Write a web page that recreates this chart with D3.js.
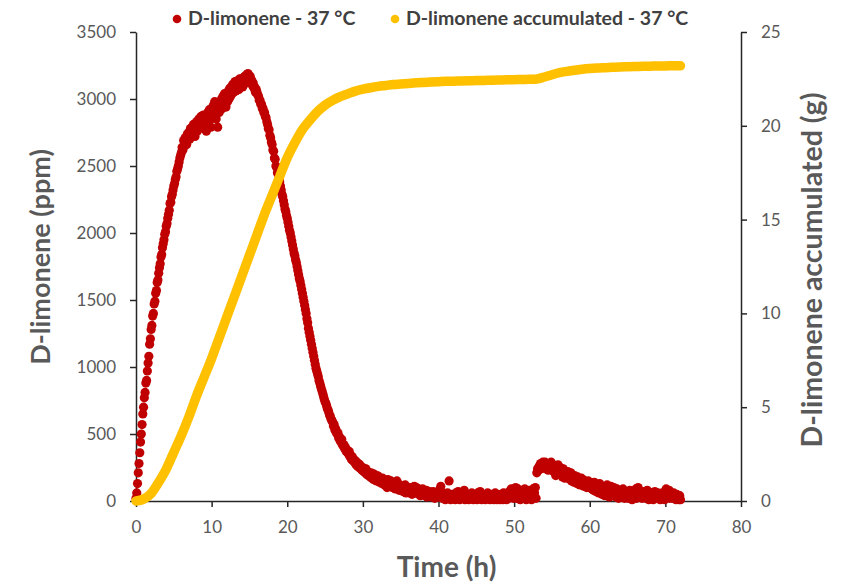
<!DOCTYPE html>
<html>
<head>
<meta charset="utf-8">
<script src="https://cdn.jsdelivr.net/npm/d3@7/dist/d3.min.js"></script>
<style>
  html, body { margin: 0; padding: 0; background: #ffffff; }
  svg { display: block; }
  text { font-family: Lato, "Open Sans", sans-serif; }
</style>
</head>
<body>
<svg id="chart" width="851" height="582"></svg>
<script>
// D-limonene concentration (ppm), one reading every 6 minutes (0.1 h) from 0 to 72 h
const limoneneStep = 0.1;
const limonenePpm = [
  20, 60, 130, 210, 280, 360, 440, 500, 570, 650,
  700, 770, 810, 880, 900, 970, 1030, 1080, 1170, 1210,
  1280, 1310, 1380, 1400, 1470, 1490, 1550, 1570, 1630, 1650,
  1700, 1740, 1770, 1820, 1840, 1890, 1920, 1950, 1990, 2010,
  2050, 2070, 2110, 2140, 2170, 2220, 2230, 2270, 2290, 2320,
  2350, 2370, 2400, 2420, 2460, 2480, 2500, 2530, 2560, 2580,
  2600, 2640, 2620, 2690, 2650, 2710, 2680, 2660, 2740, 2700,
  2750, 2700, 2780, 2730, 2790, 2740, 2810, 2760, 2720, 2800,
  2830, 2760, 2800, 2850, 2780, 2840, 2870, 2790, 2820, 2880,
  2810, 2870, 2840, 2760, 2880, 2900, 2830, 2920, 2860, 2790,
  2870, 2910, 2950, 2860, 2980, 2900, 2850, 2940, 2790, 2960,
  2900, 2970, 2920, 3000, 2930, 3020, 2950, 3040, 2980, 2940,
  3030, 2980, 3060, 3000, 3080, 3020, 3090, 3040, 3110, 3050,
  3090, 3130, 3060, 3120, 3080, 3140, 3070, 3150, 3100, 3130,
  3140, 3090, 3160, 3110, 3170, 3130, 3180, 3150, 3190, 3170,
  3150, 3170, 3130, 3140, 3100, 3120, 3080, 3090, 3050, 3070,
  3050, 3030, 3020, 2990, 2990, 2960, 2960, 2930, 2930, 2900,
  2900, 2870, 2860, 2830, 2810, 2780, 2770, 2730, 2710, 2680,
  2660, 2620, 2610, 2560, 2550, 2500, 2490, 2450, 2440, 2400,
  2380, 2350, 2320, 2290, 2270, 2240, 2210, 2180, 2160, 2130,
  2110, 2080, 2050, 2020, 2000, 1970, 1940, 1910, 1880, 1850,
  1830, 1800, 1780, 1750, 1720, 1690, 1660, 1640, 1610, 1580,
  1550, 1520, 1490, 1460, 1430, 1400, 1360, 1330, 1290, 1260,
  1230, 1200, 1170, 1140, 1110, 1080, 1050, 1020, 990, 970,
  950, 930, 900, 880, 860, 840, 820, 800, 780, 760,
  740, 730, 710, 690, 680, 660, 640, 630, 610, 600,
  590, 560, 570, 530, 540, 510, 500, 510, 470, 480,
  450, 440, 460, 420, 410, 420, 390, 400, 370, 380,
  360, 350, 370, 330, 340, 310, 330, 300, 310, 290,
  300, 270, 290, 260, 280, 250, 270, 240, 250, 230,
  250, 220, 230, 210, 240, 200, 220, 190, 210, 200,
  180, 210, 170, 190, 160, 200, 170, 180, 150, 190,
  160, 180, 140, 170, 150, 130, 170, 140, 160, 120,
  150, 130, 100, 160, 120, 140, 110, 150, 130, 100,
  140, 110, 130, 90, 120, 150, 100, 110, 80, 120,
  100, 90, 110, 70, 100, 80, 120, 60, 90, 100,
  70, 90, 60, 100, 80, 50, 90, 70, 110, 60,
  80, 100, 60, 90, 50, 70, 40, 80, 60, 90,
  50, 70, 40, 60, 80, 30, 60, 50, 70, 40,
  60, 30, 50, 70, 40, 20, 60, 40, 50, 30,
  50, 80, 30, 110, 40, 20, 60, 30, 50, 10,
  40, 20, 60, 30, 150, 40, 10, 50, 30, 20,
  50, 30, 10, 60, 20, 40, 70, 20, 10, 50,
  30, 60, 20, 40, 80, 10, 30, 50, 20, 40,
  10, 30, 50, 20, 60, 30, 10, 40, 20, 50,
  30, 10, 60, 20, 40, 70, 30, 10, 50, 20,
  40, 20, 10, 50, 30, 60, 20, 40, 10, 30,
  50, 20, 40, 10, 30, 60, 20, 10, 40, 20,
  30, 10, 50, 20, 40, 10, 60, 30, 20, 40,
  10, 30, 50, 20, 70, 40, 90, 30, 60, 20,
  80, 40, 100, 20, 60, 90, 30, 50, 10, 70,
  30, 80, 20, 50, 90, 40, 10, 60, 30, 80,
  20, 50, 70, 10, 40, 90, 30, 60, 100, 20,
  210, 240, 230, 260, 250, 280, 240, 270, 290, 250,
  270, 290, 240, 280, 260, 230, 280, 250, 270, 290,
  240, 270, 220, 260, 230, 190, 250, 220, 270, 240,
  210, 250, 200, 230, 180, 240, 210, 170, 220, 200,
  180, 220, 170, 200, 160, 210, 150, 190, 170, 140,
  190, 150, 170, 130, 180, 140, 160, 120, 150, 170,
  130, 160, 110, 150, 120, 140, 100, 130, 150, 110,
  140, 100, 130, 90, 120, 80, 140, 100, 70, 120,
  90, 110, 60, 130, 80, 100, 50, 110, 70, 90,
  40, 100, 70, 120, 60, 90, 30, 80, 110, 60,
  80, 50, 100, 40, 70, 30, 90, 60, 20, 80,
  50, 70, 30, 60, 90, 40, 20, 70, 50, 30,
  60, 20, 50, 80, 30, 60, 10, 40, 70, 30,
  50, 90, 20, 60, 100, 40, 70, 30, 50, 20,
  40, 70, 30, 60, 20, 50, 80, 30, 10, 50,
  30, 60, 20, 50, 10, 40, 70, 20, 50, 30,
  60, 20, 40, 10, 50, 30, 60, 20, 40, 10,
  50, 90, 30, 70, 40, 80, 20, 60, 30, 50,
  20, 60, 30, 40, 10, 50, 20, 30, 10, 40,
  10
];

// Accumulated D-limonene (g), hourly from 0 to 72 h
const accumulatedStep = 1;
const accumulatedG = [
  0, 0.1, 0.4, 1.0, 1.7, 2.6, 3.5, 4.5, 5.6, 6.6,
  7.6, 8.7, 9.8, 10.9, 12.0, 13.1, 14.2, 15.3, 16.3, 17.3,
  18.3, 19.1, 19.8, 20.3, 20.75, 21.1, 21.35, 21.55, 21.7, 21.85,
  21.95, 22.03, 22.1, 22.15, 22.2, 22.23, 22.26, 22.29, 22.31, 22.33,
  22.35, 22.37, 22.38, 22.39, 22.4, 22.41, 22.42, 22.43, 22.44, 22.45,
  22.46, 22.47, 22.48, 22.5, 22.6, 22.72, 22.83, 22.9, 22.96, 23.01,
  23.05, 23.08, 23.1, 23.12, 23.14, 23.15, 23.16, 23.17, 23.18, 23.19,
  23.19, 23.2, 23.2
];

const xTicks = [0, 10, 20, 30, 40, 50, 60, 70, 80];
const yLeftTicks = [0, 500, 1000, 1500, 2000, 2500, 3000, 3500];
const yRightTicks = [0, 5, 10, 15, 20, 25];

const seriesNames = ["D-limonene - 37 °C", "D-limonene accumulated - 37 °C"];
const seriesColors = ["#C00000", "#FFC000"];

const svg = d3.select("#chart");
const plot = { left: 136, right: 741, top: 32, bottom: 501 };

const x = d3.scaleLinear().domain([0, 80]).range([plot.left, plot.right]);
const yLeft = d3.scaleLinear().domain([0, 3500]).range([plot.bottom, plot.top]);
const yRight = d3.scaleLinear().domain([0, 25]).range([plot.bottom, plot.top]);

const limonene = limonenePpm.map((v, i) => ({ t: +(i * limoneneStep).toFixed(1), v }));
const accumulated = accumulatedG.map((v, i) => ({ t: i * accumulatedStep, v }));

const axisColor = "#262626";
const labelColor = "#595959";
const plain = d3.format("d");

// Axes
const xAxis = svg.append("g")
  .attr("transform", `translate(0,${plot.bottom})`)
  .call(d3.axisBottom(x).tickValues(xTicks).tickFormat(plain).tickSize(6).tickSizeOuter(0).tickPadding(14));
const leftAxis = svg.append("g")
  .attr("transform", `translate(${plot.left},0)`)
  .call(d3.axisLeft(yLeft).tickValues(yLeftTicks).tickFormat(plain).tickSize(6).tickSizeOuter(0).tickPadding(14));
const rightAxis = svg.append("g")
  .attr("transform", `translate(${plot.right},0)`)
  .call(d3.axisRight(yRight).tickValues(yRightTicks).tickFormat(plain).tickSize(6).tickSizeOuter(0).tickPadding(14));

[xAxis, leftAxis, rightAxis].forEach(g => {
  g.select(".domain").attr("stroke", axisColor).attr("stroke-width", 1.5);
  g.selectAll(".tick line").attr("stroke", axisColor).attr("stroke-width", 1.5);
  g.selectAll(".tick text")
    .attr("fill", labelColor)
    .style("font-family", "Lato, sans-serif")
    .style("font-size", "17px");
});

// Concentration points
svg.append("g")
  .selectAll("circle")
  .data(limonene)
  .join("circle")
  .attr("cx", d => x(d.t))
  .attr("cy", d => yLeft(d.v))
  .attr("r", 4.6)
  .attr("fill", seriesColors[0]);

// Accumulated amount, drawn as a dense band
svg.append("path")
  .datum(accumulated)
  .attr("fill", "none")
  .attr("stroke", seriesColors[1])
  .attr("stroke-width", 9.5)
  .attr("stroke-linecap", "round")
  .attr("stroke-linejoin", "round")
  .attr("d", d3.line().x(d => x(d.t)).y(d => yRight(d.v)).curve(d3.curveMonotoneX));

// Axis titles
svg.append("text")
  .attr("transform", `translate(${(plot.left + plot.right) / 2 + 8},577)`)
  .attr("text-anchor", "middle")
  .attr("fill", labelColor)
  .style("font-size", "28px").style("font-weight", "bold")
  .text("Time (h)");

svg.append("text")
  .attr("transform", "translate(50,257) rotate(-90)")
  .attr("text-anchor", "middle")
  .attr("fill", labelColor)
  .style("font-size", "27px").style("font-weight", "bold")
  .text("D-limonene (ppm)");

svg.append("text")
  .attr("transform", "translate(822,270) rotate(-90)")
  .attr("text-anchor", "middle")
  .attr("fill", labelColor)
  .style("font-size", "28.5px").style("font-weight", "bold")
  .text("D-limonene accumulated (g)");

// Legend
const legendItems = [{ x: 177 }, { x: 395 }];
const legend = svg.append("g");
legendItems.forEach((item, i) => {
  legend.append("circle")
    .attr("cx", item.x).attr("cy", 19).attr("r", 4.3)
    .attr("fill", seriesColors[i]);
  legend.append("text")
    .attr("x", item.x + 11).attr("y", 25)
    .attr("fill", "#404040")
    .style("font-size", "19.5px").style("font-weight", "bold")
    .text(seriesNames[i]);
});
</script>
</body>
</html>
